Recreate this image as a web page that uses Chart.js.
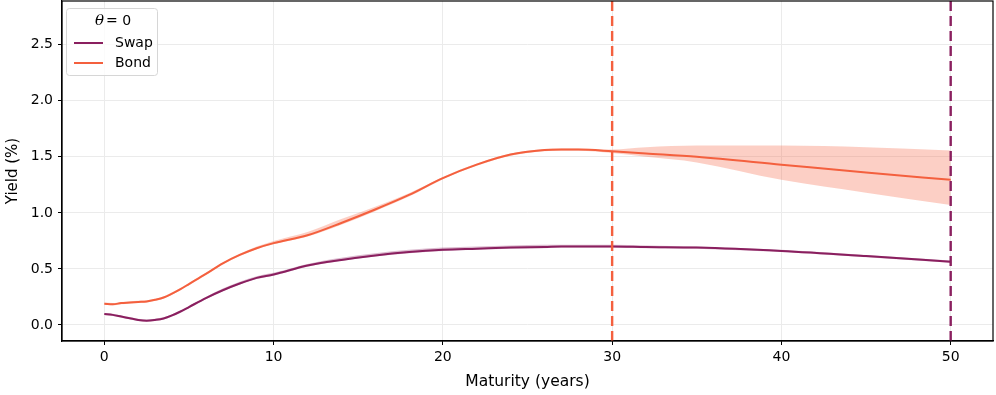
<!DOCTYPE html>
<html>
<head>
<meta charset="utf-8">
<script src="https://cdn.jsdelivr.net/npm/chart.js@4"></script>
<style>
  body { margin: 0; background: #fff; }
  #chart1 { display: block; }
</style>
</head>
<body>
<canvas id="chart1" width="996" height="395"></canvas>
<script>
// maturities in years
const maturity = [0, 0.5, 1, 1.5, 2, 2.5, 3, 3.5, 4, 4.5, 5, 6, 7, 8, 9, 10, 12, 14, 16, 18, 20, 22, 24, 26, 27, 28, 30, 32, 35, 40, 45, 50];

const swapYield = [0.098, 0.09, 0.075, 0.06, 0.045, 0.038, 0.045, 0.058, 0.085, 0.12, 0.16, 0.24, 0.31, 0.37, 0.42, 0.45, 0.53, 0.58, 0.62, 0.65, 0.67, 0.68, 0.69, 0.695, 0.70, 0.70, 0.70, 0.695, 0.69, 0.66, 0.615, 0.565];
const swapHigh = [0.105, 0.10, 0.085, 0.07, 0.055, 0.048, 0.055, 0.068, 0.095, 0.13, 0.17, 0.25, 0.325, 0.385, 0.435, 0.465, 0.545, 0.60, 0.64, 0.67, 0.69, 0.70, 0.71, 0.715, 0.715, 0.715, 0.715, 0.71, 0.70, 0.67, 0.625, 0.575];
const swapLow = [0.09, 0.08, 0.065, 0.05, 0.035, 0.03, 0.035, 0.048, 0.075, 0.11, 0.15, 0.23, 0.30, 0.36, 0.41, 0.44, 0.52, 0.57, 0.61, 0.64, 0.66, 0.67, 0.68, 0.685, 0.69, 0.69, 0.69, 0.685, 0.68, 0.65, 0.605, 0.555];

const bondYield = [0.19, 0.185, 0.195, 0.20, 0.205, 0.21, 0.225, 0.245, 0.28, 0.32, 0.365, 0.455, 0.55, 0.625, 0.685, 0.73, 0.80, 0.91, 1.03, 1.16, 1.31, 1.43, 1.52, 1.56, 1.565, 1.565, 1.55, 1.53, 1.50, 1.43, 1.36, 1.295];
const bondHigh = [0.20, 0.195, 0.205, 0.21, 0.215, 0.22, 0.235, 0.255, 0.29, 0.33, 0.375, 0.465, 0.56, 0.635, 0.70, 0.75, 0.83, 0.945, 1.055, 1.175, 1.32, 1.44, 1.53, 1.57, 1.575, 1.575, 1.565, 1.585, 1.60, 1.60, 1.585, 1.556];
const bondLow = [0.18, 0.175, 0.185, 0.19, 0.195, 0.20, 0.215, 0.235, 0.27, 0.31, 0.355, 0.445, 0.54, 0.615, 0.675, 0.72, 0.79, 0.895, 1.015, 1.145, 1.30, 1.42, 1.51, 1.55, 1.555, 1.555, 1.535, 1.50, 1.45, 1.295, 1.18, 1.07];

const xTicks = [0, 10, 20, 30, 40, 50];
const yTicks = [0, 0.5, 1, 1.5, 2, 2.5];
const cutoffs = [30, 50]; // bond cutoff, swap cutoff

const swapColor = '#8a1f5f';
const bondColor = '#f4603e';
const yMin = -0.143, yMax = 2.89;

const pts = (ys) => maturity.map((m, i) => ({ x: m, y: ys[i] }));
const vline = (x) => [{ x: x, y: yMin }, { x: x, y: yMax }];

const lineStyle = { pointRadius: 0, cubicInterpolationMode: 'monotone', fill: false };
const bandStyle = { pointRadius: 0, cubicInterpolationMode: 'monotone', borderWidth: 0 };

// legend box drawn inside the plot, matplotlib style
const legendBox = {
  id: 'legendBox',
  afterDatasetsDraw(chart) {
    const ctx = chart.ctx;
    const a = chart.chartArea;
    const x0 = a.left + 4, y0 = a.top + 7, w = 91, h = 67;
    ctx.save();
    ctx.fillStyle = 'rgba(255,255,255,0.8)';
    ctx.strokeStyle = '#d6d6d6';
    ctx.lineWidth = 1;
    ctx.beginPath();
    ctx.roundRect(x0 + 0.5, y0 + 0.5, w, h, 3);
    ctx.fill();
    ctx.stroke();
    ctx.fillStyle = '#000';
    ctx.textBaseline = 'middle';
    ctx.font = 'italic 15px "DejaVu Serif"';
    ctx.fillText('\u03b8', x0 + 29, y0 + 13);
    ctx.font = '14px "DejaVu Sans"';
    ctx.fillText('= 0', x0 + 40, y0 + 13);
    const items = [['Swap', swapColor], ['Bond', bondColor]];
    items.forEach((it, i) => {
      const yy = y0 + 35 + i * 20;
      ctx.strokeStyle = it[1];
      ctx.lineWidth = 2;
      ctx.beginPath();
      ctx.moveTo(x0 + 8, yy);
      ctx.lineTo(x0 + 37, yy);
      ctx.stroke();
      ctx.fillStyle = '#000';
      ctx.fillText(it[0], x0 + 49, yy);
    });
    // frame on all four sides
    ctx.strokeStyle = '#000';
    ctx.lineWidth = 1.2;
    ctx.strokeRect(a.left, a.top, a.right - a.left, a.bottom - a.top);
    ctx.restore();
  }
};

new Chart(document.getElementById('chart1'), {
  type: 'line',
  data: {
    datasets: [
      { data: vline(cutoffs[0]), borderColor: bondColor, borderWidth: 2.4, borderDash: [10, 5], pointRadius: 0, fill: false },
      { data: vline(cutoffs[1]), borderColor: swapColor, borderWidth: 2.4, borderDash: [10, 5], pointRadius: 0, fill: false },
      { label: 'Swap', data: pts(swapYield), borderColor: swapColor, borderWidth: 2, ...lineStyle },
      { label: 'Bond', data: pts(bondYield), borderColor: bondColor, borderWidth: 2, ...lineStyle },
      { data: pts(swapHigh), fill: '+1', backgroundColor: 'rgba(138,31,95,0.3)', ...bandStyle },
      { data: pts(swapLow), fill: false, ...bandStyle },
      { data: pts(bondHigh), fill: '+1', backgroundColor: 'rgba(244,96,62,0.3)', ...bandStyle },
      { data: pts(bondLow), fill: false, ...bandStyle }
    ]
  },
  options: {
    responsive: false,
    animation: false,
    maintainAspectRatio: false,
    layout: { padding: { top: 1, right: 3, left: 0, bottom: 0 } },
    plugins: {
      legend: { display: false },
      tooltip: { enabled: false }
    },
    scales: {
      x: {
        type: 'linear',
        min: -2.5,
        max: 52.5,
        afterBuildTicks: (s) => { s.ticks = xTicks.map(v => ({ value: v })); },
        afterFit: (s) => { s.height = 54; s.paddingLeft = 0; s.paddingRight = 0; },
        grid: { color: '#ebebeb', tickColor: '#000', tickLength: 4, lineWidth: 1 },
        border: { color: '#000', width: 1.2 },
        ticks: { color: '#000', font: { family: 'DejaVu Sans', size: 14 }, padding: 4, maxRotation: 0 },
        title: { display: true, text: 'Maturity (years)', color: '#000', font: { family: 'DejaVu Sans', size: 15.5 }, padding: { top: 1 } }
      },
      y: {
        min: yMin,
        max: yMax,
        afterBuildTicks: (s) => { s.ticks = yTicks.map(v => ({ value: v })); },
        afterFit: (s) => { s.width = 62; s.paddingTop = 0; s.paddingBottom = 0; },
        grid: { color: '#ebebeb', tickColor: '#000', tickLength: 4, lineWidth: 1 },
        border: { color: '#000', width: 1.2 },
        ticks: { color: '#000', font: { family: 'DejaVu Sans', size: 14 }, padding: 5, callback: (v) => v.toFixed(1) },
        title: { display: true, text: 'Yield (%)', color: '#000', font: { family: 'DejaVu Sans', size: 15 }, padding: { bottom: 2 } }
      }
    }
  },
  plugins: [legendBox]
});
</script>
</body>
</html>
